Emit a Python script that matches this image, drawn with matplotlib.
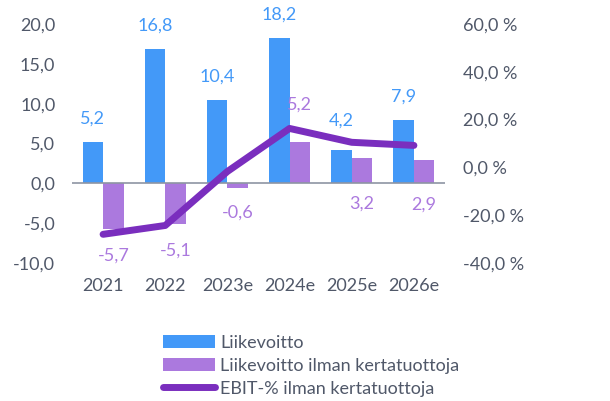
import numpy as np
import matplotlib.pyplot as plt

plt.rcParams['font.family'] = ['Lato', 'DejaVu Sans']

# Data
vuodet = ['2021', '2022', '2023e', '2024e', '2025e', '2026e']
liikevoitto = [5.2, 16.8, 10.4, 18.2, 4.2, 7.9]
liikevoitto_ilman = [-5.7, -5.1, -0.6, 5.2, 3.2, 2.9]
ebit_pros = [-28.0, -24.3, -1.7, 16.3, 10.5, 9.2]

# label offsets (points) relative to bar end
off_sin = [17, 17, 17, 17, 21, 17]
off_vio = [-19, -19, -18, 27, -33, -32]

sininen = '#4399F8'
vaalea_vio = '#AB79DE'
tumma_vio = '#7A2EBE'
harmaa = '#505869'

fig = plt.figure(figsize=(6.10, 4.01), dpi=100)
ax1 = fig.add_axes([72/610, 1-263/401, (445-72)/610, (263-24)/401])
ax2 = ax1.twinx()

x = np.arange(len(vuodet))
w = 0.33
ax1.bar(x - w/2, liikevoitto, w, color=sininen, label='Liikevoitto', zorder=2)
ax1.bar(x + w/2, liikevoitto_ilman, w, color=vaalea_vio, label='Liikevoitto ilman kertatuottoja', zorder=2)
ax1.axhline(0, color='#8E95A3', lw=1.2, zorder=3)

fs = 13
for i in range(len(x)):
    ax1.annotate(f'{liikevoitto[i]:.1f}'.replace('.', ','), (x[i] - w/2, liikevoitto[i]),
                 xytext=(0, off_sin[i]), textcoords='offset points', ha='center', va='center',
                 color=sininen, fontsize=fs)
    ax1.annotate(f'{liikevoitto_ilman[i]:.1f}'.replace('.', ','), (x[i] + w/2, liikevoitto_ilman[i]),
                 xytext=(0, off_vio[i]), textcoords='offset points', ha='center', va='center',
                 color=vaalea_vio, fontsize=fs)

ax2.plot(x, ebit_pros, color=tumma_vio, lw=5, solid_capstyle='round', solid_joinstyle='round',
         label='EBIT-% ilman kertatuottoja', zorder=4)

ax1.set_xlim(-0.5, 5.5)
ax1.set_ylim(-10, 20)
ax2.set_ylim(-40, 60)
ax1.set_yticks([-10, -5, 0, 5, 10, 15, 20])
ax1.set_yticklabels([f'{v:.1f}'.replace('.', ',') for v in [-10, -5, 0, 5, 10, 15, 20]])
ax2.set_yticks([-40, -20, 0, 20, 40, 60])
ax2.set_yticklabels([f'{v:.1f} %'.replace('.', ',') for v in [-40, -20, 0, 20, 40, 60]])
ax1.set_xticks(x)
ax1.set_xticklabels(vuodet)

for ax in (ax1, ax2):
    for s in ax.spines.values():
        s.set_visible(False)
    ax.tick_params(length=0, labelsize=fs, colors=harmaa)
ax1.tick_params(axis='y', pad=12)
ax1.tick_params(axis='x', pad=11)
ax2.tick_params(axis='y', pad=13)
ax2.set_zorder(ax1.get_zorder() + 1)
ax2.patch.set_visible(False)

h1, l1 = ax1.get_legend_handles_labels()
h2, l2 = ax2.get_legend_handles_labels()
fig.legend(h1 + h2, l1 + l2, loc='upper left', bbox_to_anchor=(154/610, 1-326/401),
           frameon=False, fontsize=fs, labelcolor=harmaa, borderpad=0,
           handlelength=2.9, handletextpad=0.25, labelspacing=0.38)

fig.savefig('out.png', dpi=100)
